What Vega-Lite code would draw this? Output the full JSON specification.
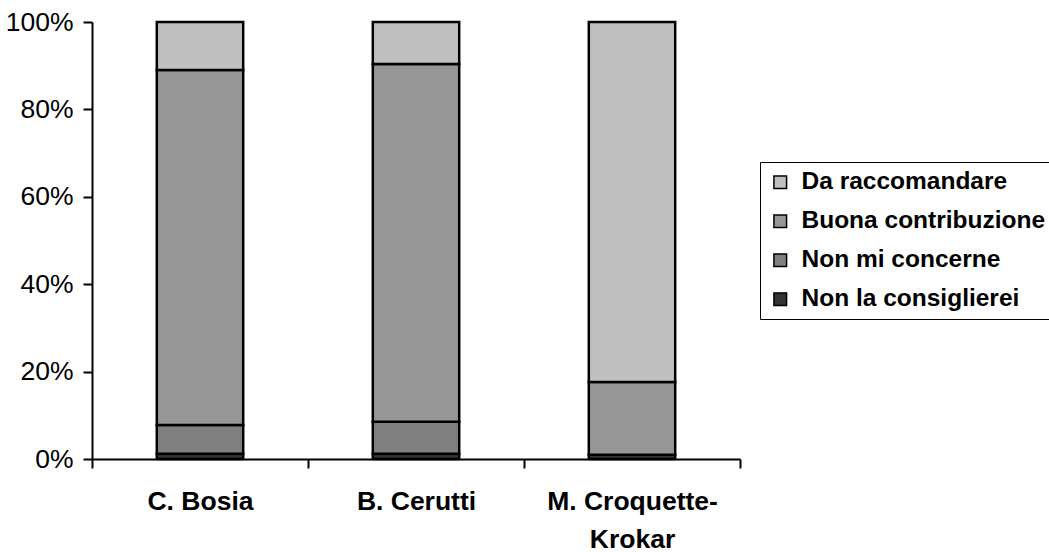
{
  "$schema": "https://vega.github.io/schema/vega-lite/v6.json",
  "width": 648,
  "height": 437,
  "autosize": {"type": "none"},
  "padding": {"left": 92, "top": 22, "right": 309, "bottom": 93},
  "background": "white",
  "config": {
    "view": {"stroke": null},
    "font": "Liberation Sans"
  },
  "data": {
    "values": [
      {"person": "C. Bosia", "answer": "Non la consiglierei", "rank": 1, "share": 0.012},
      {"person": "C. Bosia", "answer": "Non mi concerne", "rank": 2, "share": 0.066},
      {"person": "C. Bosia", "answer": "Buona contribuzione", "rank": 3, "share": 0.812},
      {"person": "C. Bosia", "answer": "Da raccomandare", "rank": 4, "share": 0.110},
      {"person": "B. Cerutti", "answer": "Non la consiglierei", "rank": 1, "share": 0.012},
      {"person": "B. Cerutti", "answer": "Non mi concerne", "rank": 2, "share": 0.073},
      {"person": "B. Cerutti", "answer": "Buona contribuzione", "rank": 3, "share": 0.819},
      {"person": "B. Cerutti", "answer": "Da raccomandare", "rank": 4, "share": 0.096},
      {"person": "M. Croquette-Krokar", "answer": "Non la consiglierei", "rank": 1, "share": 0.010},
      {"person": "M. Croquette-Krokar", "answer": "Non mi concerne", "rank": 2, "share": 0.0},
      {"person": "M. Croquette-Krokar", "answer": "Buona contribuzione", "rank": 3, "share": 0.166},
      {"person": "M. Croquette-Krokar", "answer": "Da raccomandare", "rank": 4, "share": 0.824}
    ]
  },
  "mark": {"type": "bar", "stroke": "black", "strokeWidth": 2.5, "width": {"band": 0.4}},
  "encoding": {
    "x": {
      "field": "person",
      "type": "nominal",
      "sort": ["C. Bosia", "B. Cerutti", "M. Croquette-Krokar"],
      "scale": {"paddingInner": 0, "paddingOuter": 0},
      "axis": {
        "title": null,
        "labelAngle": 0,
        "labelFontSize": 26.5,
        "labelFontWeight": "bold",
        "labelColor": "black",
        "labelLineHeight": 38,
        "labelPadding": 20,
        "labelExpr": "datum.label == 'M. Croquette-Krokar' ? ['M. Croquette-', 'Krokar'] : datum.label",
        "bandPosition": 0,
        "tickBand": "extent",
        "domainColor": "black",
        "domainWidth": 2,
        "tickColor": "black",
        "tickWidth": 2,
        "tickSize": 9
      }
    },
    "y": {
      "field": "share",
      "type": "quantitative",
      "stack": "zero",
      "scale": {"domain": [0, 1]},
      "axis": {
        "title": null,
        "values": [0, 0.2, 0.4, 0.6, 0.8, 1],
        "format": ".0%",
        "grid": false,
        "labelFontSize": 26.5,
        "labelColor": "black",
        "labelPadding": 10,
        "domainColor": "black",
        "domainWidth": 2,
        "tickColor": "black",
        "tickWidth": 2,
        "tickSize": 9
      }
    },
    "color": {
      "field": "answer",
      "type": "nominal",
      "scale": {
        "domain": ["Da raccomandare", "Buona contribuzione", "Non mi concerne", "Non la consiglierei"],
        "range": ["#C0C0C0", "#969696", "#808080", "#333333"]
      },
      "legend": {
        "title": null,
        "orient": "none",
        "legendX": 668,
        "legendY": 140,
        "strokeColor": "black",
        "fillColor": "white",
        "padding": 8,
        "symbolType": "square",
        "symbolSize": 160,
        "symbolStrokeColor": "black",
        "symbolStrokeWidth": 1.5,
        "symbolOpacity": 1,
        "labelFontSize": 24.5,
        "labelFontWeight": "bold",
        "labelColor": "black",
        "labelOffset": 9,
        "rowPadding": 14,
        "labelLimit": 400
      }
    },
    "order": {"field": "rank", "type": "ordinal"}
  }
}
